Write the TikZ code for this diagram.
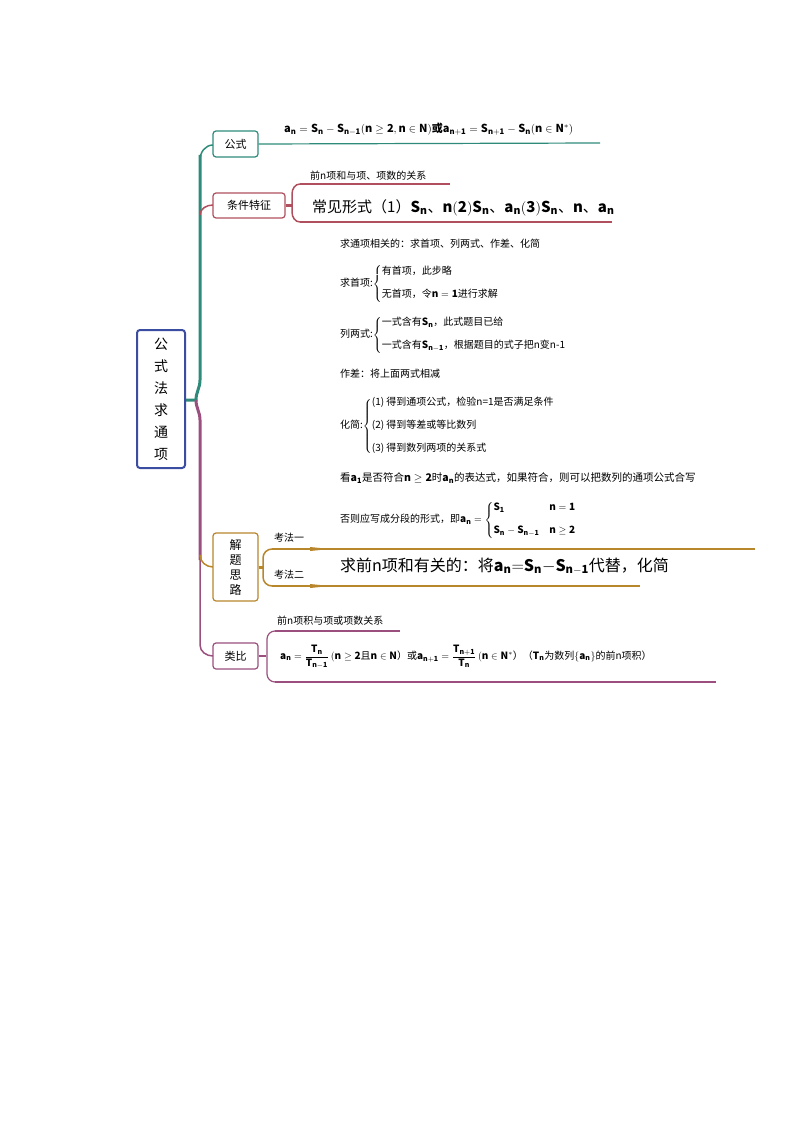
\documentclass[tikz,border=0pt]{standalone}
\usepackage{amsmath,amssymb}
\usepackage{fontspec}
\setmainfont{Noto Sans CJK SC}
\newfontfamily\serifb{Liberation Serif}
\usetikzlibrary{arrows.meta}
\definecolor{teal1}{HTML}{2E8B7A}
\definecolor{mar}{HTML}{B0505E}
\definecolor{pur}{HTML}{9A4F7E}
\definecolor{gold}{HTML}{B8862B}
\definecolor{rootb}{HTML}{3B4DA0}
\tikzset{
 box/.style={draw,rounded corners=3pt,line width=1.2pt,fill=white,font=\fontsize{11}{13}\selectfont,inner sep=0pt},
 txt/.style={anchor=west,inner sep=0pt,font=\fontsize{10}{12}\selectfont},
 stxt/.style={anchor=west,inner sep=0pt,font=\fontsize{10}{12}\selectfont},
}
\begin{document}
\begin{tikzpicture}[x=1pt,y=-1pt]
\useasboundingbox (0,0) rectangle (794,1123);
% trunk
\draw[teal1,line width=3pt] (185,400) -- (196,400) to[out=90,in=-90] (200,380) -- (200,155);
\draw[teal1,line width=1.5pt] (200,160) to[out=90,in=180] (213,145);
\draw[mar,line width=1.5pt] (200,215) to[out=90,in=180] (213,205);
\draw[pur,line width=3pt] (196,400) to[out=-90,in=90] (200,420) -- (200,560);
\draw[pur,line width=1.5pt] (200,550) -- (200,645) to[out=-90,in=180] (213,656);
\draw[gold,line width=1.5pt] (200,555) to[out=-90,in=180] (213,567);
% root
\node[box,draw=rootb,line width=2pt,minimum width=48pt,minimum height=138pt,font=\fontsize{14}{22}\selectfont,align=center] (root) at (161,399) {公\\式\\法\\求\\通\\项};
% 公式
\node[box,draw=teal1,minimum width=45pt,minimum height=26pt] (gs) at (235.5,144) {公式};
\draw[teal1,line width=1.2pt] (gs.east) -- (600,143);
\node[txt,font=\fontsize{11}{13}\selectfont\bfseries] (f1) at (284,129) {$\mathbf{a_n=S_n-S_{n-1}(n\ge 2,n\in N)}$或$\mathbf{a_{n+1}=S_{n+1}-S_n(n\in N^*)}$};
% 条件特征
\node[box,draw=mar,minimum width=72pt,minimum height=25pt] (tj) at (249,205.5) {条件特征};
\draw[mar,line width=3pt] (tj.east) -- (292,205.5);
\draw[mar,line width=1.5pt] (300,184) to[out=180,in=90] (292,194) -- (292,212) to[out=-90,in=180] (300,222);
\draw[mar,line width=1.2pt] (300,184) -- (450,184);
\draw[mar,line width=1.2pt] (300,222) -- (612,222);
\node[stxt] (t1) at (310,176) {前n项和与项、项数的关系};
\node[txt,font=\fontsize{15}{17}\selectfont] (t2) at (312,208) {常见形式（1）$\mathbf{S_n}$、$\mathbf{n(2)S_n}$、$\mathbf{a_n(3)S_n}$、$\mathbf{n}$、$\mathbf{a_n}$};
% text block
\node[stxt] (b1) at (340,244) {求通项相关的：求首项、列两式、作差、化简};
\node[stxt] (b2) at (340,284) {求首项:$\left\{\begin{array}{@{}l}\text{有首项，此步略}\\[11pt]\text{无首项，令}\mathbf{n=1}\text{进行求解}\end{array}\right.$};
\node[stxt] (b3) at (340,335) {列两式:$\left\{\begin{array}{@{}l}\text{一式含有}\mathbf{S_n}\text{，此式题目已给}\\[11pt]\text{一式含有}\mathbf{S_{n-1}}\text{，根据题目的式子把n变n-1}\end{array}\right.$};
\node[stxt] (b4) at (340,374) {作差：将上面两式相减};
\node[stxt] (b5) at (340,426) {化简:$\left\{\begin{array}{@{}l}\text{(1) 得到通项公式，检验n=1是否满足条件}\\[11pt]\text{(2) 得到等差或等比数列}\\[11pt]\text{(3) 得到数列两项的关系式}\end{array}\right.$};
\node[stxt,font=\fontsize{10.5}{12}\selectfont] (b6) at (340,478) {看$\mathbf{a_1}$是否符合$\mathbf{n\ge 2}$时$\mathbf{a_n}$的表达式，如果符合，则可以把数列的通项公式合写};
\node[stxt] (b7) at (340,520) {否则应写成分段的形式，即$\mathbf{a_n}=\left\{\begin{array}{@{}ll}\mathbf{S_1} & \mathbf{n=1}\\[11pt]\mathbf{S_n-S_{n-1}} & \mathbf{n\ge 2}\end{array}\right.$};
% 解题思路
\node[box,draw=gold,minimum width=45pt,minimum height=68pt,align=center,font=\fontsize{12}{15}\selectfont] (jt) at (235.5,567) {解\\题\\思\\路};
\draw[gold,line width=3pt] (jt.east) -- (263,567);
\draw[gold,line width=1.5pt] (272,549) to[out=180,in=90] (263,558) -- (263,577) to[out=-90,in=180] (272,586);
\draw[gold,line width=1.2pt] (272,549) -- (755,549);
\draw[gold,line width=1.2pt] (272,586) -- (640,586);
\fill[gold] (310,547) -- (330,549) -- (310,551) -- cycle;
\fill[gold] (310,584) -- (330,586) -- (310,588) -- cycle;
\node[stxt] (k1) at (274,538) {考法一};
\node[stxt] (k2) at (274,575) {考法二};
\node[txt,font=\fontsize{16}{18}\selectfont] (k3) at (340,566) {求前n项和有关的：将$\mathbf{a_n{=}S_n{-}S_{n-1}}$代替，化简};
% 类比
\node[box,draw=pur,minimum width=45pt,minimum height=26pt] (lb) at (235.5,656) {类比};
\draw[pur,line width=1.2pt] (lb.east) -- (266,656);
\draw[pur,line width=1.2pt] (275,631) to[out=180,in=90] (267,639) -- (267,674) to[out=-90,in=180] (275,682);
\draw[pur,line width=1.2pt] (275,631) -- (400,631);
\draw[pur,line width=1.2pt] (275,682) -- (716,682);
\node[stxt] (l1) at (277,621) {前n项积与项或项数关系};
\node[stxt] (l2) at (280,657) {$\mathbf{a_n=\dfrac{T_n}{T_{n-1}}}\,(\mathbf{n\ge 2}$且$\mathbf{n\in N}$）或$\mathbf{a_{n+1}=\dfrac{T_{n+1}}{T_n}}\,(\mathbf{n\in N^*}$）（$\mathbf{T_n}$为数列$\{\mathbf{a_n}\}$的前n项积）};
\end{tikzpicture}
\end{document}
